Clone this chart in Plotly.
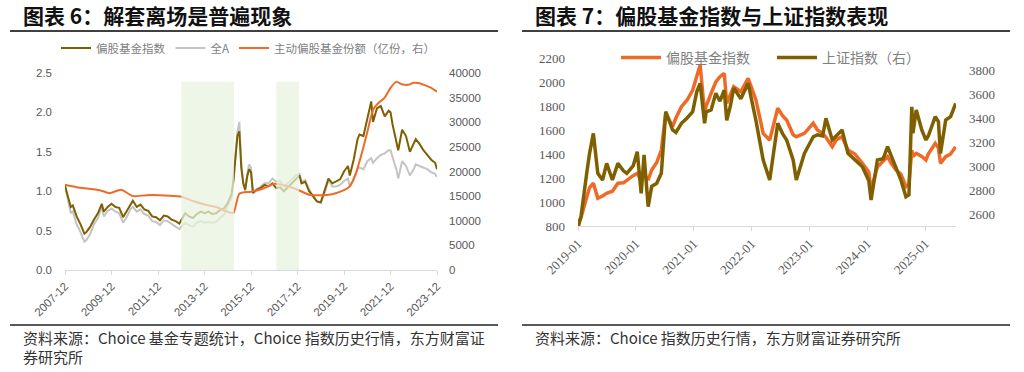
import plotly.graph_objects as go

W, H = 1024, 372
def px(x): return x / W
def py(y): return 1 - y / H

# ---------------- Chart 6 data ----------------
idx_dates = ["2007-12","2008-01","2008-03","2008-04","2008-06","2008-08","2008-10","2008-11",
             "2009-01","2009-03","2009-05","2009-07","2009-08","2009-10","2009-12",
             "2010-02","2010-04","2010-06","2010-08","2010-10","2010-11",
             "2011-01","2011-03","2011-05","2011-07","2011-09","2011-11",
             "2012-01","2012-03","2012-05","2012-07","2012-09","2012-11",
             "2013-01","2013-02","2013-04","2013-06","2013-08","2013-10","2013-12",
             "2014-02","2014-04","2014-06","2014-08","2014-10","2014-12",
             "2015-02","2015-03","2015-04","2015-05","2015-06","2015-07","2015-08","2015-09",
             "2015-10","2015-11","2015-12",
             "2016-01","2016-03","2016-05","2016-07","2016-09","2016-11",
             "2017-01","2017-03","2017-05","2017-07","2017-09","2017-11",
             "2018-01","2018-02","2018-04","2018-06","2018-08","2018-10","2018-12",
             "2019-02","2019-04","2019-06","2019-08","2019-10","2019-12",
             "2020-02","2020-03","2020-05","2020-07","2020-08","2020-10","2020-12",
             "2021-02","2021-03","2021-05","2021-07","2021-09","2021-11","2021-12",
             "2022-01","2022-03","2022-04","2022-06","2022-08","2022-10","2022-12",
             "2023-01","2023-03","2023-05","2023-07","2023-09","2023-11","2023-12"]
fund_index = [1.07,0.98,0.80,0.82,0.68,0.58,0.46,0.48,
              0.55,0.64,0.72,0.84,0.74,0.80,0.84,
              0.80,0.79,0.67,0.75,0.84,0.88,
              0.80,0.83,0.77,0.75,0.68,0.67,
              0.63,0.69,0.68,0.64,0.62,0.59,
              0.68,0.72,0.68,0.66,0.71,0.74,0.72,
              0.74,0.71,0.72,0.76,0.78,0.85,
              0.97,1.15,1.42,1.70,1.76,1.30,1.10,1.02,
              1.18,1.28,1.24,
              0.98,1.02,1.04,1.08,1.06,1.10,
              1.04,1.05,1.00,1.05,1.10,1.16,
              1.20,1.10,1.12,1.00,0.94,0.87,0.86,
              1.00,1.16,1.10,1.12,1.15,1.25,
              1.32,1.20,1.40,1.66,1.72,1.70,1.92,
              2.14,1.88,2.05,2.08,1.95,2.02,2.00,
              1.85,1.64,1.52,1.78,1.70,1.50,1.60,
              1.66,1.60,1.52,1.46,1.40,1.36,1.28]
all_a = [1.07,0.95,0.72,0.75,0.58,0.48,0.36,0.38,
         0.46,0.58,0.66,0.80,0.68,0.75,0.78,
         0.74,0.72,0.60,0.68,0.78,0.80,
         0.74,0.77,0.71,0.69,0.62,0.61,
         0.57,0.63,0.62,0.58,0.55,0.52,
         0.58,0.60,0.57,0.55,0.60,0.62,0.60,
         0.61,0.60,0.61,0.66,0.70,0.82,
         0.93,1.12,1.45,1.75,1.88,1.38,1.12,1.00,
         1.22,1.34,1.30,
         0.97,1.02,1.06,1.10,1.10,1.16,
         1.12,1.13,1.06,1.10,1.15,1.20,
         1.22,1.12,1.14,1.02,0.95,0.87,0.85,
         0.98,1.14,1.06,1.06,1.08,1.13,
         1.16,1.06,1.14,1.28,1.30,1.28,1.38,
         1.42,1.36,1.42,1.46,1.48,1.52,1.52,
         1.44,1.28,1.16,1.38,1.32,1.20,1.28,
         1.34,1.32,1.30,1.28,1.24,1.22,1.18]
share_dates = ["2007-12","2008-06","2009-06","2009-11","2010-05","2010-11","2011-06","2012-06",
               "2012-12","2013-06","2013-12","2014-06","2014-12","2015-03","2015-06","2015-12",
               "2016-06","2016-12","2017-06","2017-12","2018-06","2018-12","2019-06","2019-12",
               "2020-03","2020-06","2020-09","2020-12","2021-03","2021-06","2021-09","2021-12",
               "2022-03","2022-06","2022-09","2022-12","2023-03","2023-06","2023-09","2023-12"]
fund_shares = [17300,16800,16200,15600,16300,15000,15200,15100,
               14900,14000,13300,12800,11800,11600,15500,15900,
               16500,17500,17100,16300,15300,15200,15400,16200,
               17000,19500,23500,28000,32500,34000,35000,37000,
               38200,37700,37600,38000,37900,37500,37000,36200]
shade_starts = ["2012-12-01", "2017-01-01"]
shade_ends = ["2015-03-10", "2017-12-25"]
left_ticks = ["2007-12","2009-12","2011-12","2013-12","2015-12","2017-12","2019-12","2021-12","2023-12"]

# ---------------- Chart 7 data ----------------
c7_dates = ["2019-01-02","2019-01-20","2019-02-25","2019-03-15","2019-04-08","2019-05-06","2019-06-05",
            "2019-07-01","2019-08-06","2019-09-10","2019-10-15","2019-11-05","2019-12-15",
            "2020-01-10","2020-02-04","2020-02-22","2020-03-19","2020-04-10","2020-05-12","2020-06-10",
            "2020-07-08","2020-08-20","2020-09-10","2020-10-15","2020-11-20","2020-12-25",
            "2021-01-20","2021-02-10","2021-03-10","2021-03-20","2021-04-20","2021-05-20","2021-06-15",
            "2021-07-12","2021-07-28","2021-08-20","2021-09-10","2021-10-25","2021-12-10",
            "2022-01-28","2022-03-15","2022-04-25","2022-06-15","2022-07-15","2022-08-10","2022-09-20",
            "2022-10-10","2022-11-30","2023-01-25","2023-02-20","2023-03-25","2023-04-15","2023-05-25",
            "2023-06-20","2023-07-26","2023-09-01","2023-10-15","2023-12-01","2024-01-10","2024-01-25",
            "2024-03-05","2024-04-10","2024-05-08","2024-06-01","2024-07-01","2024-08-01","2024-09-01",
            "2024-09-20","2024-10-08","2024-10-15","2024-11-05","2024-12-10","2025-01-05","2025-01-20",
            "2025-03-05","2025-03-25","2025-04-07","2025-05-10","2025-06-10","2025-07-12"]
c7_fund = [820,870,1040,1120,1156,1031,1050,
           1072,1090,1156,1160,1183,1220,
           1239,1183,1230,1183,1267,1330,1433,
           1739,1628,1700,1794,1850,1933,
           2060,2142,1739,1800,1906,2000,2044,
           2072,1822,1900,1961,1920,2031,
           1850,1572,1517,1781,1720,1683,1560,
           1544,1572,1656,1600,1572,1540,1461,
           1520,1544,1433,1400,1322,1250,1100,
           1294,1340,1378,1320,1267,1230,1128,
           1150,1433,1380,1406,1380,1350,1400,
           1489,1450,1322,1378,1400,1461]
c7_sh = [2490,2580,2940,3105,3272,2939,2883,
         3022,2883,3022,2960,2939,3000,
         3119,2772,3092,2661,2830,2856,2939,
         3453,3300,3280,3356,3400,3453,
         3620,3689,3356,3450,3467,3606,3540,
         3633,3380,3500,3650,3560,3689,
         3380,3050,2883,3356,3270,3217,3050,
         2883,3105,3244,3260,3250,3397,3217,
         3250,3300,3105,3050,2994,2880,2717,
         3050,3060,3161,3080,2994,2880,2744,
         2760,3494,3272,3467,3300,3217,3250,
         3411,3370,3105,3383,3411,3522]
right_ticks = ["2019-01","2020-01","2021-01","2022-01","2023-01","2024-01","2025-01"]

OLIVE = "#7F6000"
ORANGE = "#EE6A26"
GRAY = "#C4C4C4"
CJK = "Noto Sans CJK SC"

fig = go.Figure()

# Chart 6 traces
fig.add_trace(go.Scatter(x=idx_dates, y=all_a, name="全A", mode="lines",
                         line=dict(color=GRAY, width=2), xaxis="x", yaxis="y",
                         legend="legend", legendrank=2))
fig.add_trace(go.Scatter(x=idx_dates, y=fund_index, name="偏股基金指数", mode="lines",
                         line=dict(color=OLIVE, width=2), xaxis="x", yaxis="y",
                         legend="legend", legendrank=1))
fig.add_trace(go.Scatter(x=share_dates, y=fund_shares, name="主动偏股基金份额（亿份，右）", mode="lines",
                         line=dict(color=ORANGE, width=2, shape="spline", smoothing=0.6),
                         xaxis="x", yaxis="y2", legend="legend", legendrank=3))

# Chart 7 traces
fig.add_trace(go.Scatter(x=c7_dates, y=c7_fund, name="偏股基金指数", mode="lines",
                         line=dict(color=ORANGE, width=3.5), xaxis="x2", yaxis="y3",
                         legend="legend2", legendrank=1))
fig.add_trace(go.Scatter(x=c7_dates, y=c7_sh, name="上证指数（右）", mode="lines",
                         line=dict(color=OLIVE, width=3.5), xaxis="x2", yaxis="y4",
                         legend="legend2", legendrank=2))

shapes = []
for s, e in zip(shade_starts, shade_ends):
    shapes.append(dict(type="rect", xref="x", yref="y", x0=s, x1=e, y0=0, y1=2.39,
                       fillcolor="rgba(231,242,223,0.72)", line=dict(width=0), layer="above"))
# title rules and source rules
for x0, x1 in [(10, 498), (522, 1010)]:
    shapes.append(dict(type="line", xref="paper", yref="paper", x0=px(x0), x1=px(x1),
                       y0=py(31), y1=py(31), line=dict(color="#404040", width=2)))
    shapes.append(dict(type="line", xref="paper", yref="paper", x0=px(x0), x1=px(x1),
                       y0=py(325), y1=py(325), line=dict(color="#222222", width=1.5)))

annotations = [
    dict(text="<b>图表 6：解套离场是普遍现象</b>", x=px(21), y=py(15), xref="paper", yref="paper",
         xanchor="left", yanchor="middle", showarrow=False,
         font=dict(family=CJK, size=21, color="#111111")),
    dict(text="<b>图表 7：偏股基金指数与上证指数表现</b>", x=px(533), y=py(15), xref="paper", yref="paper",
         xanchor="left", yanchor="middle", showarrow=False,
         font=dict(family=CJK, size=21, color="#111111")),
    dict(text="资料来源：Choice 基金专题统计，Choice 指数历史行情，东方财富证",
         x=px(21), y=py(337), xref="paper", yref="paper", xanchor="left", yanchor="middle",
         align="left", showarrow=False, font=dict(family=CJK, size=15, color="#333333")),
    dict(text="券研究所",
         x=px(21), y=py(356), xref="paper", yref="paper", xanchor="left", yanchor="middle",
         align="left", showarrow=False, font=dict(family=CJK, size=15, color="#333333")),
    dict(text="资料来源：Choice 指数历史行情，东方财富证券研究所",
         x=px(533), y=py(337), xref="paper", yref="paper", xanchor="left", yanchor="middle",
         align="left", showarrow=False, font=dict(family=CJK, size=15, color="#333333")),
]

sans_tick = dict(family="Liberation Sans, Arial", size=11.5, color="#595959")
serif_tick = dict(family="Liberation Serif, Times New Roman", size=13, color="#595959")

fig.update_layout(
    template="none",
    width=W, height=H, margin=dict(l=0, r=0, t=0, b=0, autoexpand=False),
    paper_bgcolor="white", plot_bgcolor="white",
    shapes=shapes, annotations=annotations,
    xaxis=dict(domain=[px(65), px(437)], anchor="y", type="date", automargin=False,
               range=["2007-12-01", "2023-12-01"],
               tickvals=[t + "-01" for t in left_ticks], ticktext=left_ticks,
               tickangle=-45, tickfont=sans_tick, showgrid=False, zeroline=False,
               showline=True, linecolor="#D9D9D9", linewidth=1,
               ticks="outside", ticklen=4, tickcolor="#D9D9D9"),
    yaxis=dict(domain=[py(270), py(73)], anchor="x", range=[0, 2.5], dtick=0.5, automargin=False,
               tickformat=".1f", tickfont=sans_tick, showgrid=False, zeroline=False,
               showline=False, ticks="", ticklabelstandoff=12),
    yaxis2=dict(overlaying="y", anchor="x", side="right", range=[0, 40000], dtick=5000,
                automargin=False, tickformat="d",
                tickfont=sans_tick, showgrid=False, zeroline=False, showline=False,
                ticks="", ticklabelstandoff=11),
    xaxis2=dict(domain=[px(578), px(956)], anchor="y3", type="date", automargin=False,
                range=["2019-01-01", "2025-07-14"],
                tickvals=[t + "-01" for t in right_ticks], ticktext=right_ticks,
                tickangle=-45, tickfont=serif_tick, showgrid=False, zeroline=False,
                showline=True, linecolor="#D9D9D9", linewidth=1,
                ticks="outside", ticklen=4, tickcolor="#D9D9D9"),
    yaxis3=dict(domain=[py(226), py(58)], anchor="x2", range=[800, 2200], dtick=200,
                automargin=False, tickformat="d",
                tickfont=serif_tick, showgrid=False, zeroline=False, showline=False,
                ticks="", ticklabelstandoff=12),
    yaxis4=dict(overlaying="y3", anchor="x2", side="right", range=[2500, 3900], dtick=200,
                automargin=False, tickformat="d",
                tickfont=serif_tick, showgrid=False, zeroline=False, showline=False,
                ticks="", ticklabelstandoff=12),
    legend=dict(orientation="h", x=px(56), y=py(48), xanchor="left", yanchor="middle",
                font=dict(family=CJK, size=11.5, color="#7F7F7F"), bgcolor="rgba(0,0,0,0)",
                itemwidth=30, traceorder="normal"),
    legend2=dict(orientation="h", x=px(616), y=py(58), xanchor="left", yanchor="middle",
                 font=dict(family=CJK, size=14, color="#7F7F7F"), bgcolor="rgba(0,0,0,0)",
                 itemwidth=40, entrywidth=101, traceorder="normal"),
    showlegend=True,
)

fig.write_html("out.html", config={"displayModeBar": False},
               post_script="document.body.style.margin='0';")
